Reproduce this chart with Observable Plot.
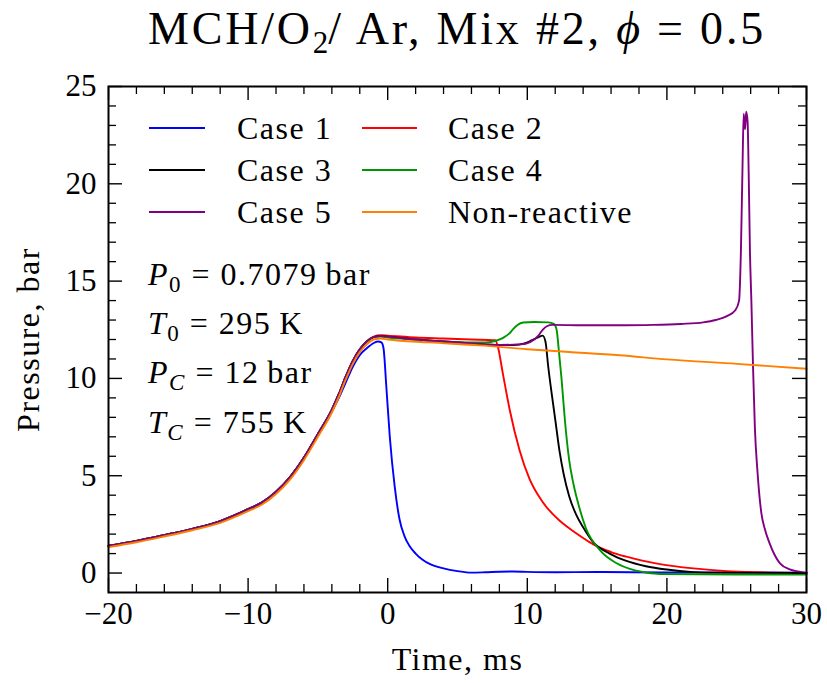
<!DOCTYPE html>
<html><head><meta charset="utf-8">
<script src="https://cdn.jsdelivr.net/npm/d3@7"></script>
<script src="https://cdn.jsdelivr.net/npm/@observablehq/plot@0.6"></script>
<style>
body{margin:0;background:#fff;}
#wrap{width:827px;height:683px;font-family:"Liberation Serif",serif;color:#000;}
#title{height:60px;box-sizing:border-box;padding-left:87px;text-align:center;font-size:46px;letter-spacing:2.8px;line-height:58px;white-space:nowrap;}
#title sub{font-size:31px;vertical-align:-9px;line-height:0;letter-spacing:0;}
</style></head>
<body><div id="wrap"><div id="title">MCH/O<sub>2</sub>/ Ar, Mix #2, <i>ϕ</i> = 0.5</div><div id="chart"></div></div>
<script>
// ---- data ----
const seriesNames = ["Case 1", "Case 2", "Case 3", "Case 4", "Case 5", "Non-reactive"];
const seriesColors = ["#0000ff", "#ff0000", "#000000", "#009600", "#800080", "#ff8000"];

const case1T = [-20,-18,-16,-14,-12,-10,-9,-8,-7,-6,-5,-4,-3.5,-3,-2.5,-2,-1.5,-1,-0.7,-0.45,-0.3,-0.1,0.15,0.5,0.85,1.2,1.6,2,2.5,3,4,5,6,7,8,9,10,12,15,20,25,30];
const case1P = [1.38,1.63,1.93,2.25,2.65,3.25,3.6,4.15,4.9,5.9,7.1,8.3,9.0,9.8,10.6,11.2,11.55,11.82,11.9,11.85,11.55,9.6,7.0,4.45,2.75,1.9,1.35,1.0,0.68,0.47,0.24,0.1,0.02,0.04,0.07,0.08,0.06,0.04,0.05,0.03,0.03,0.02];

const case2T = [-20,-18,-16,-14,-12,-10,-9,-8,-7,-6,-5,-4,-3.5,-3,-2.5,-2,-1.5,-1,-0.5,0,2,4,6,7.7,7.9,8.25,8.75,9.45,10.15,11.1,12.3,13,14,14.7,16,17.1,19.5,21.9,24.3,26.6,30];
const case2P = [1.4,1.65,1.95,2.27,2.67,3.28,3.63,4.18,4.93,5.93,7.15,8.4,9.2,10.1,10.9,11.5,11.9,12.15,12.22,12.2,12.1,12.05,12.0,11.96,11.6,10.25,8.35,6.3,4.85,3.65,2.7,2.3,1.8,1.48,1.08,0.84,0.46,0.24,0.1,0.04,0.0];

const case3T = [-20,-18,-16,-14,-12,-10,-9,-8,-7,-6,-5,-4,-3.5,-3,-2.5,-2,-1.5,-1,-0.5,0,2,4,6,8,9,9.8,10.3,10.8,11.1,11.3,11.5,11.75,12,12.3,12.6,13,13.5,14,14.7,15.9,17.1,18.5,20,21.5,23,30];
const case3P = [1.4,1.65,1.95,2.27,2.67,3.28,3.63,4.18,4.93,5.93,7.15,8.4,9.2,10.1,10.9,11.5,11.9,12.12,12.18,12.15,12.0,11.9,11.8,11.72,11.72,11.8,11.95,12.12,12.2,11.9,10.6,9.2,7.9,6.3,5.1,3.95,3.0,2.35,1.6,1.0,0.62,0.35,0.18,0.07,0.02,0.0];

const case4T = [-20,-18,-16,-14,-12,-10,-9,-8,-7,-6,-5,-4,-3.5,-3,-2.5,-2,-1.5,-1,-0.5,0,2,4,6,7,7.8,8.3,8.7,9,9.3,9.7,10.5,11.5,11.9,12.1,12.25,12.45,12.7,13,13.3,13.75,14.2,15.2,16.4,17.8,19.5,25,30];
const case4P = [1.4,1.65,1.95,2.27,2.67,3.28,3.63,4.18,4.93,5.93,7.15,8.4,9.2,10.1,10.9,11.5,11.9,12.12,12.15,12.1,12.0,11.9,11.85,11.85,11.95,12.1,12.3,12.55,12.75,12.87,12.9,12.88,12.8,12.5,11.5,10.0,7.8,5.8,4.6,3.3,2.3,1.18,0.5,0.12,-0.05,-0.08,-0.08];

const case5T = [-20,-18,-16,-14,-12,-10,-9,-8,-7,-6,-5,-4,-3.5,-3,-2.5,-2,-1.5,-1,-0.5,0,2,4,6,8,9.5,10.2,10.8,11.1,11.4,11.8,14,17,19,21,22.6,23.5,24.3,24.9,25.17,25.3,25.42,25.5,25.6,25.68,25.78,25.86,25.95,26.05,26.17,26.3,26.5,26.77,27,27.36,27.7,28.1,28.8,29.4,30];
const case5P = [1.4,1.65,1.95,2.27,2.67,3.28,3.63,4.18,4.93,5.93,7.15,8.4,9.2,10.1,10.9,11.5,11.9,12.12,12.18,12.15,12.0,11.9,11.8,11.72,11.75,11.87,12.2,12.5,12.68,12.75,12.73,12.73,12.75,12.8,12.88,13.0,13.2,13.5,14.0,16.5,21.0,23.6,22.8,23.7,23.2,20.5,16.5,14.0,10.6,7.5,5.1,3.06,2.3,1.52,0.95,0.5,0.19,0.08,0.0];

const nonReactT = [-20,-18,-16,-14,-12,-10,-9,-8,-7,-6,-5,-4,-3.5,-3,-2.5,-2,-1.5,-1,-0.5,0,3,6.6,10,13,16.6,20,25,30];
const nonReactP = [1.33,1.58,1.88,2.2,2.58,3.18,3.52,4.06,4.8,5.8,7.0,8.25,9.05,9.95,10.75,11.35,11.75,12.0,12.05,12.0,11.85,11.7,11.5,11.36,11.19,10.98,10.75,10.5];

const xMajorTicks = [-20,-10,0,10,20,30];
const xMinorTicks = [-18,-16,-14,-12,-8,-6,-4,-2,2,4,6,8,12,14,16,18,22,24,26,28];
const yMajorTicks = [0,5,10,15,20,25];
const yMinorTicks = [1,2,3,4,6,7,8,9,11,12,13,14,16,17,18,19,21,22,23,24];

const legendRows = [["Case 1","Case 2"],["Case 3","Case 4"],["Case 5","Non-reactive"]];
const annotations = [
  {v:"P", sub:"0", subItalic:false, rest:" = 0.7079\u2009bar"},
  {v:"T", sub:"0", subItalic:false, rest:" = 295\u2009K"},
  {v:"P", sub:"C", subItalic:true, rest:" = 12\u2009bar"},
  {v:"T", sub:"C", subItalic:true, rest:" = 755\u2009K"}
];

// ---- build ----
const allT = [case1T, case2T, case3T, case4T, case5T, nonReactT];
const allP = [case1P, case2P, case3P, case4P, case5P, nonReactP];
const rows = [];
seriesNames.forEach((s, i) => allT[i].forEach((t, j) => rows.push({series: s, t, p: allP[i][j]})));

const W = 827, H = 623, mT = 26, mB = 91, mL = 108, mR = 21;
const plotW = W - mL - mR, plotH = H - mT - mB;
const majorLen = 14, minorLen = 8;
const fmt = d => d < 0 ? "\u2212" + Math.abs(d) : String(d);

const lineMarks = seriesNames.map(s => Plot.line(rows.filter(r => r.series === s), {x: "t", y: "p", stroke: "series", strokeWidth: 1.9, curve: "monotone-x"}));

const chart = Plot.plot({
  width: W, height: H, marginTop: mT, marginBottom: mB, marginLeft: mL, marginRight: mR,
  x: {domain: [-20, 30]},
  y: {domain: [-1, 25]},
  color: {domain: seriesNames, range: seriesColors},
  style: {fontFamily: "'Liberation Serif', serif", fontSize: "30px", color: "#000", background: "#fff"},
  marks: [
    ...lineMarks,
    Plot.tickX(xMajorTicks, {x: d => d, insetTop: plotH - majorLen, strokeWidth: 1.4}),
    Plot.tickX(xMajorTicks, {x: d => d, insetBottom: plotH - majorLen, strokeWidth: 1.4}),
    Plot.tickX(xMinorTicks, {x: d => d, insetTop: plotH - minorLen, strokeWidth: 1.3}),
    Plot.tickX(xMinorTicks, {x: d => d, insetBottom: plotH - minorLen, strokeWidth: 1.3}),
    Plot.tickY(yMajorTicks, {y: d => d, insetRight: plotW - majorLen, strokeWidth: 1.4}),
    Plot.tickY(yMajorTicks, {y: d => d, insetLeft: plotW - majorLen, strokeWidth: 1.4}),
    Plot.tickY(yMinorTicks, {y: d => d, insetRight: plotW - minorLen, strokeWidth: 1.3}),
    Plot.tickY(yMinorTicks, {y: d => d, insetLeft: plotW - minorLen, strokeWidth: 1.3}),
    Plot.frame({stroke: "#000", strokeWidth: 2}),
    Plot.axisX(xMajorTicks, {tickSize: 0, tickPadding: 9, fontSize: 31, tickFormat: fmt, label: null}),
    Plot.axisY(yMajorTicks, {tickSize: 0, tickPadding: 12, fontSize: 31, tickFormat: fmt, label: null}),
    Plot.text(["Time, ms"], {frameAnchor: "bottom", textAnchor: "middle", dy: 77, fontSize: 32}),
    Plot.text(["Pressure, bar"], {frameAnchor: "left", textAnchor: "middle", rotate: -90, dx: -80, fontSize: 32})
  ]
});
document.getElementById("chart").appendChild(chart);

const svg = d3.select(chart);
svg.selectAll("text").filter(function() { return this.textContent === "Time, ms" || this.textContent === "Pressure, bar"; })
  .style("letter-spacing", "1.5px");

// legend
const lg = svg.append("g").attr("font-family", "'Liberation Serif', serif").attr("font-size", 32)
  .attr("text-anchor", "start").style("letter-spacing", "1.5px");
const colX = [[149, 205, 237], [362, 417, 448]];
const rowY = [68, 110, 152];
legendRows.forEach((row, ri) => row.forEach((name, ci) => {
  const c = seriesColors[seriesNames.indexOf(name)];
  lg.append("line").attr("x1", colX[ci][0]).attr("x2", colX[ci][1]).attr("y1", rowY[ri]).attr("y2", rowY[ri])
    .attr("stroke", c).attr("stroke-width", 1.9);
  lg.append("text").attr("x", colX[ci][2]).attr("y", rowY[ri]).attr("dy", "0.35em").attr("fill", "#000").text(name);
}));

// annotations
const ag = svg.append("g").attr("font-family", "'Liberation Serif', serif").attr("font-size", 32)
  .attr("text-anchor", "start").attr("fill", "#000").style("letter-spacing", "1.5px");
const annY = [225, 274, 323, 373];
annotations.forEach((a, i) => {
  const t = ag.append("text").attr("x", 148).attr("y", annY[i]);
  t.append("tspan").attr("font-style", "italic").text(a.v);
  t.append("tspan").attr("font-size", 23).attr("dy", 7).attr("font-style", a.subItalic ? "italic" : "normal").text(a.sub);
  t.append("tspan").attr("dy", -7).text(a.rest);
});
</script></body></html>
